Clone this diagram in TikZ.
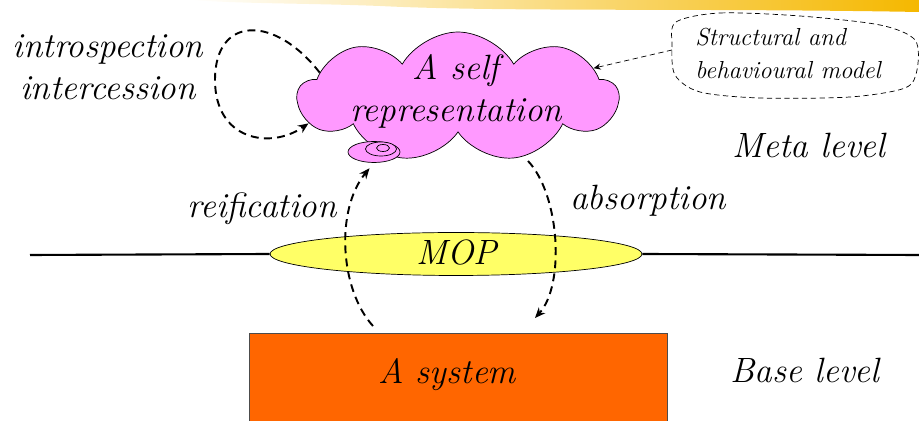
\documentclass[tikz,border=0pt]{standalone}
\usepackage{fontspec}
\usepackage{tikz}
\usetikzlibrary{arrows.meta,shapes.geometric,shapes.symbols,positioning}
\definecolor{cloudpink}{HTML}{FF99FF}
\definecolor{mopyellow}{HTML}{FFFF66}
\definecolor{sysorange}{HTML}{FF6600}
\definecolor{bandgold}{HTML}{F5B800}

\begin{document}
\begin{tikzpicture}[x=0.02cm, y=-0.02cm,
  every node/.style={inner sep=0pt},
  bigtext/.style={font=\itshape\fontsize{20}{24}\selectfont},
  notetext/.style={font=\itshape\fontsize{14}{18.7}\selectfont},
  levelline/.style={line width=1.2pt},
  thought/.style={cloud, cloud puffs=9, cloud puff arc=120, draw, thin, fill=cloudpink, minimum width=6.4cm, minimum height=2.6cm},
  disc/.style={ellipse, draw, thin, fill=cloudpink},
  mopbox/.style={ellipse, draw, thin, fill=mopyellow, minimum width=7.44cm, minimum height=0.86cm},
  sysbox/.style={rectangle, draw=black!70, thin, fill=sysorange, minimum width=8.36cm, minimum height=2.2cm},
  arr/.style={line width=1.1pt, dash pattern=on 4.5pt off 3pt, -{Stealth[length=6pt,width=5pt]}},
  notearr/.style={thin, densely dashed, -{Stealth[length=4pt,width=3.5pt]}},
]
\useasboundingbox (0,0) rectangle (919,421);
\clip (0,0) rectangle (919,421);

% brush band along the top edge
\shade[left color=white, right color=bandgold] (190,0) -- (919,0) -- (919,12)
  .. controls (700,8) and (500,12) .. (380,6) .. controls (300,3) and (250,4) .. (190,0) -- cycle;

% meta level: the self representation
\node[thought] (cloud) at (458,97) {};
\node[disc, minimum width=1.04cm, minimum height=0.42cm] (tail) at (374,152) {};
\node[disc, minimum width=0.62cm, minimum height=0.28cm] (ring) at (381,149) {};
\node[disc, minimum width=0.26cm, minimum height=0.14cm] (hole) at (383,148) {};
\node[bigtext, align=center] (selfrep) at (456,91) {A self\\representation};

% the MOP on the level line
\coordinate (lineleft) at (30,255);
\coordinate (lineright) at (919,255);
\node[mopbox] (mop) at (456,254) {};
\draw[levelline] (lineleft) -- (mop.west);
\draw[levelline] (mop.east) -- (lineright);
\node[bigtext, anchor=base] (moplabel) at (457,265) {MOP};

% base level
\node[sysbox] (sys) at (458,388) {};
\node[bigtext, anchor=base] (systext) at (447,384) {A system};

% labels
\node[bigtext, align=center] (intro) at (108,67) {introspection\\intercession};
\node[bigtext, anchor=base] (reify) at (262,218) {reification};
\node[bigtext, anchor=base] (absorb) at (648,210) {absorption};
\node[bigtext, anchor=base] (meta) at (809,158) {Meta level};
\node[bigtext, anchor=base] (base) at (805,383) {Base level};

% callout
\node[notetext, align=left, anchor=north west] (note) at (695,28) {Structural and\\behavioural model};
\draw[thin, densely dashed] plot[smooth cycle] coordinates {(676,22) (720,13) (800,16) (880,25) (915,40) (917,70) (905,88) (850,97) (760,98) (700,92) (675,75) (672,45)};
\coordinate (noteedge) at (672,50);
\draw[notearr] (noteedge) -- (cloud.12);

% loops and arrows
\draw[arr] (cloud.170) .. controls (275,15) and (215,15) .. (215,80)
  .. controls (215,140) and (270,150) .. (cloud.190);
\coordinate (reifyfoot) at (373,326);
\draw[arr, shorten >=4pt] (reifyfoot) .. controls (340,290) and (335,210) .. (tail.south);
\coordinate (absorbtop) at (528,161);
\coordinate (absorbfoot) at (535,318);
\draw[arr] (absorbtop) .. controls (560,195) and (565,285) .. (absorbfoot);
\end{tikzpicture}
\end{document}
